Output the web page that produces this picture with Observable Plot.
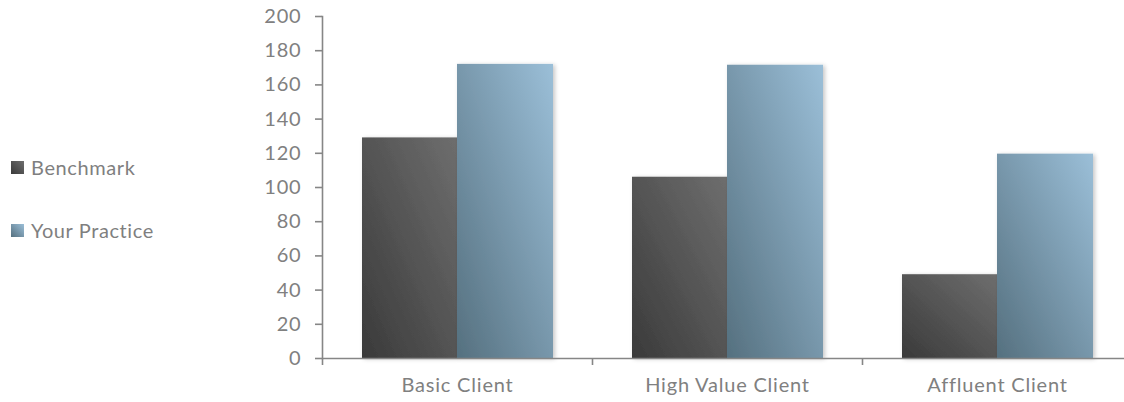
<!DOCTYPE html>
<html>
<head>
<meta charset="utf-8">
<script src="https://cdn.jsdelivr.net/npm/d3@7"></script>
<script src="https://cdn.jsdelivr.net/npm/@observablehq/plot@0.6"></script>
<style>
  html, body { margin: 0; padding: 0; background: #fff; }
  #wrap { position: relative; width: 1124px; height: 402px; font-family: Lato, "Open Sans", sans-serif; }
  #legend { position: absolute; left: 11px; top: 0; color: #7f7f7f; font-size: 20px; letter-spacing: 0.6px; }
  .item { position: absolute; left: 0; white-space: nowrap; display: flex; align-items: center; height: 24px; }
  .sw { width: 13px; height: 13px; margin-right: 7px; display: inline-block; }
  svg text { letter-spacing: 0.8px; }
</style>
</head>
<body>
<div id="wrap">
  <div id="legend"></div>
  <div id="chart"></div>
</div>
<script>
const categories = ["Basic Client", "High Value Client", "Affluent Client"];
const series = ["Benchmark", "Your Practice"];
const benchmark = [129, 106, 49];
const practice = [172, 171.5, 119.5];
const yTicks = [0, 20, 40, 60, 80, 100, 120, 140, 160, 180, 200];

const benchData = categories.map((c, i) => ({category: c, series: series[0], value: benchmark[i]}));
const pracData = categories.map((c, i) => ({category: c, series: series[1], value: practice[i]}));

const axisColor = "#868686";
const textColor = "#808080";

const plot = Plot.plot({
  width: 1124,
  height: 402,
  marginTop: 16,
  marginBottom: 44,
  marginLeft: 322,
  marginRight: 0,
  style: {fontFamily: "Lato, 'Open Sans', sans-serif", color: textColor, background: "transparent", overflow: "visible"},
  x: {domain: categories, range: [322, 1132], padding: 0},
  y: {domain: [0, 200]},
  marks: [
    Plot.barY(benchData, {x: "category", y: "value", fill: "url(#gBench)", insetLeft: 40, insetRight: 135}),
    Plot.barY(pracData, {x: "category", y: "value", fill: "url(#gPrac)", insetLeft: 135, insetRight: 39}),
    Plot.ruleY([0], {stroke: axisColor, strokeWidth: 1.6}),
    Plot.frame({anchor: "left", stroke: axisColor, strokeWidth: 1.6}),
    Plot.axisY({ticks: yTicks, tickSize: 7, tickPadding: 14, fontSize: 20, stroke: axisColor, strokeWidth: 1.6, fill: textColor, label: null}),
    Plot.axisX({tickSize: 0, tickPadding: 19, fontSize: 20, fill: textColor, label: null}),
    Plot.axisX({tickSize: 7, dx: -135, tickFormat: () => "", stroke: axisColor, strokeWidth: 1.6, label: null})
  ]
});

plot.insertAdjacentHTML("afterbegin", `
<defs>
  <linearGradient id="gBench" x1="0" y1="1" x2="1" y2="0">
    <stop offset="0" stop-color="#3a3a3a"/>
    <stop offset="1" stop-color="#6e6e6e"/>
  </linearGradient>
  <linearGradient id="gPrac" x1="0" y1="1" x2="1" y2="0">
    <stop offset="0" stop-color="#55707f"/>
    <stop offset="1" stop-color="#9bbfd8"/>
  </linearGradient>
  <filter id="shadow" x="-10%" y="-10%" width="130%" height="130%">
    <feDropShadow dx="2" dy="1" stdDeviation="2" flood-color="#000" flood-opacity="0.22"/>
  </filter>
</defs>`);
plot.querySelectorAll("g[aria-label='bar']").forEach(g => g.setAttribute("filter", "url(#shadow)"));

document.getElementById("chart").appendChild(plot);

// Legend (HTML, at left of the chart)
const legendTops = [155, 218];
const swatch = ["linear-gradient(45deg, #3a3a3a, #6e6e6e)", "linear-gradient(45deg, #55707f, #9bbfd8)"];
const legend = document.getElementById("legend");
series.forEach((s, i) => {
  const d = document.createElement("div");
  d.className = "item";
  d.style.top = legendTops[i] + "px";
  d.innerHTML = `<span class="sw" style="background:${swatch[i]}"></span><span>${s}</span>`;
  legend.appendChild(d);
});
</script>
</body>
</html>
